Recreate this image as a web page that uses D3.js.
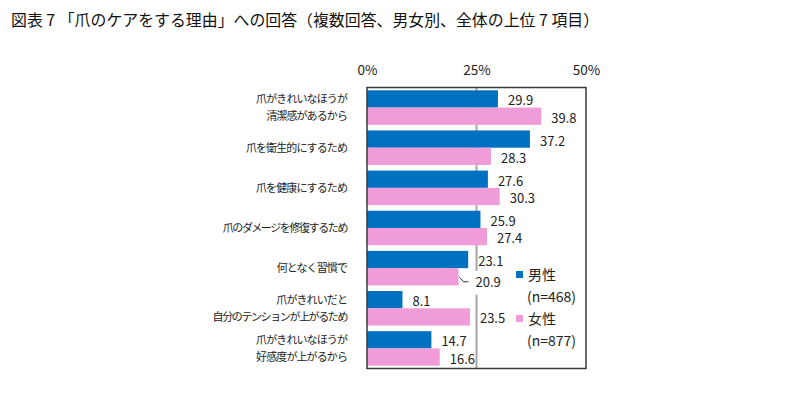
<!DOCTYPE html>
<html><head><meta charset="utf-8">
<script src="https://cdn.jsdelivr.net/npm/d3@7"></script>
<style>
body{margin:0;background:#fff;}
svg{display:block;font-family:"Noto Sans CJK JP","Noto Sans",sans-serif;}
</style></head>
<body><svg id="c" width="810" height="398"></svg>
<script>
const title = "図表 7 「爪のケアをする理由」への回答（複数回答、男女別、全体の上位 7 項目）";
const categories = [
  ["爪がきれいなほうが","清潔感があるから"],
  ["爪を衛生的にするため"],
  ["爪を健康にするため"],
  ["爪のダメージを修復するため"],
  ["何となく習慣で"],
  ["爪がきれいだと","自分のテンションが上がるため"],
  ["爪がきれいなほうが","好感度が上がるから"]
];
const male = [29.9, 37.2, 27.6, 25.9, 23.1, 8.1, 14.7];
const female = [39.8, 28.3, 30.3, 27.4, 20.9, 23.5, 16.6];
const seriesNames = ["男性","女性"];
const seriesN = ["(n=468)","(n=877)"];
const ticks = [0, 25, 50];
const colors = ["#0070C0", "#F09CD8"];

const svg = d3.select("#c");
svg.append("text").attr("x", 11).attr("y", 26).attr("font-size", 15.9).attr("fill", "#111").text(title);

const x = d3.scaleLinear().domain([0, 50]).range([367, 586]);
const y = d3.scaleBand().domain(d3.range(categories.length)).range([87.5, 368.5]).paddingInner(0.14).paddingOuter(0.07);
const sub = d3.scaleBand().domain([0,1]).range([0, y.bandwidth()]);

const g = svg.append("g");
g.selectAll(".grid").data(ticks.filter(t => t > 0 && t < 50)).join("line")
  .attr("x1", d => x(d)).attr("x2", d => x(d)).attr("y1", 87.5).attr("y2", 368.5)
  .attr("stroke", "#A6A6A6").attr("stroke-width", 2);

const data = categories.map((c, i) => ({i, vals: [male[i], female[i]]}));
data.forEach(d => {
  d.vals.forEach((v, s) => {
    g.append("rect").attr("x", x(0)).attr("y", y(d.i) + sub(s))
      .attr("width", x(v) - x(0)).attr("height", sub.bandwidth()).attr("fill", colors[s]);
  });
});

svg.append("rect").attr("x", 367).attr("y", 87.5).attr("width", 586 - 367).attr("height", 368.5 - 87.5)
  .attr("fill", "none").attr("stroke", "#3a3a3a").attr("stroke-width", 1.5);

const axis = d3.axisTop(x).tickValues(ticks).tickFormat(d => d + "%").tickSize(0).tickPadding(0);
const ag = svg.append("g").attr("transform", "translate(0,75)").call(axis);
ag.select(".domain").remove();
ag.selectAll("text").attr("font-size", 13.5).attr("fill", "#222").attr("font-family", "'Noto Sans CJK JP',sans-serif");

data.forEach(d => {
  d.vals.forEach((v, s) => {
    const cy = y(d.i) + sub(s) + sub.bandwidth() / 2;
    const special = (d.i === 4 && s === 1);
    let lx = x(v) + 10;
    let ly = cy + 2;
    if (special) {
      lx = x(25) - 1;
      ly = cy + 6;
      svg.append("rect").attr("x", lx - 6).attr("y", ly - 12).attr("width", 40).attr("height", 24).attr("fill", "#fff");
      svg.append("path").attr("d", `M${x(v)+1},${cy+0.5} L${x(v)+5},${ly-1} L${lx-7},${ly-1}`)
        .attr("fill", "none").attr("stroke", "#333").attr("stroke-width", 1);
    }
    svg.append("text").attr("x", lx).attr("y", ly).attr("dy", "0.35em")
      .attr("font-size", 13).attr("fill", "#222").text(v.toFixed(1));
  });
});

data.forEach(d => {
  const lines = categories[d.i];
  lines.forEach((t, k) => {
    let cy;
    if (lines.length === 1) cy = y(d.i) + y.bandwidth() / 2;
    else cy = y(d.i) + sub(k) + sub.bandwidth() / 2;
    svg.append("text").attr("x", 347).attr("y", cy).attr("dy", "0.35em")
      .attr("text-anchor", "end").attr("font-size", 11).attr("letter-spacing", t.length > 12 ? -1.4 : -0.9)
      .attr("fill", "#222").text(t);
  });
});

const lg = svg.append("g");
seriesNames.forEach((n, s) => {
  const top = 270 + s * 44;
  lg.append("rect").attr("x", 516).attr("y", top + 1).attr("width", 7).attr("height", 7).attr("fill", colors[s]);
  lg.append("text").attr("x", 528).attr("y", top + 5).attr("dy", "0.35em").attr("font-size", 14).attr("fill", "#222").text(n);
  lg.append("text").attr("x", 527).attr("y", top + 27).attr("dy", "0.35em").attr("font-size", 14).attr("fill", "#222").text(seriesN[s]);
});
</script></body></html>
